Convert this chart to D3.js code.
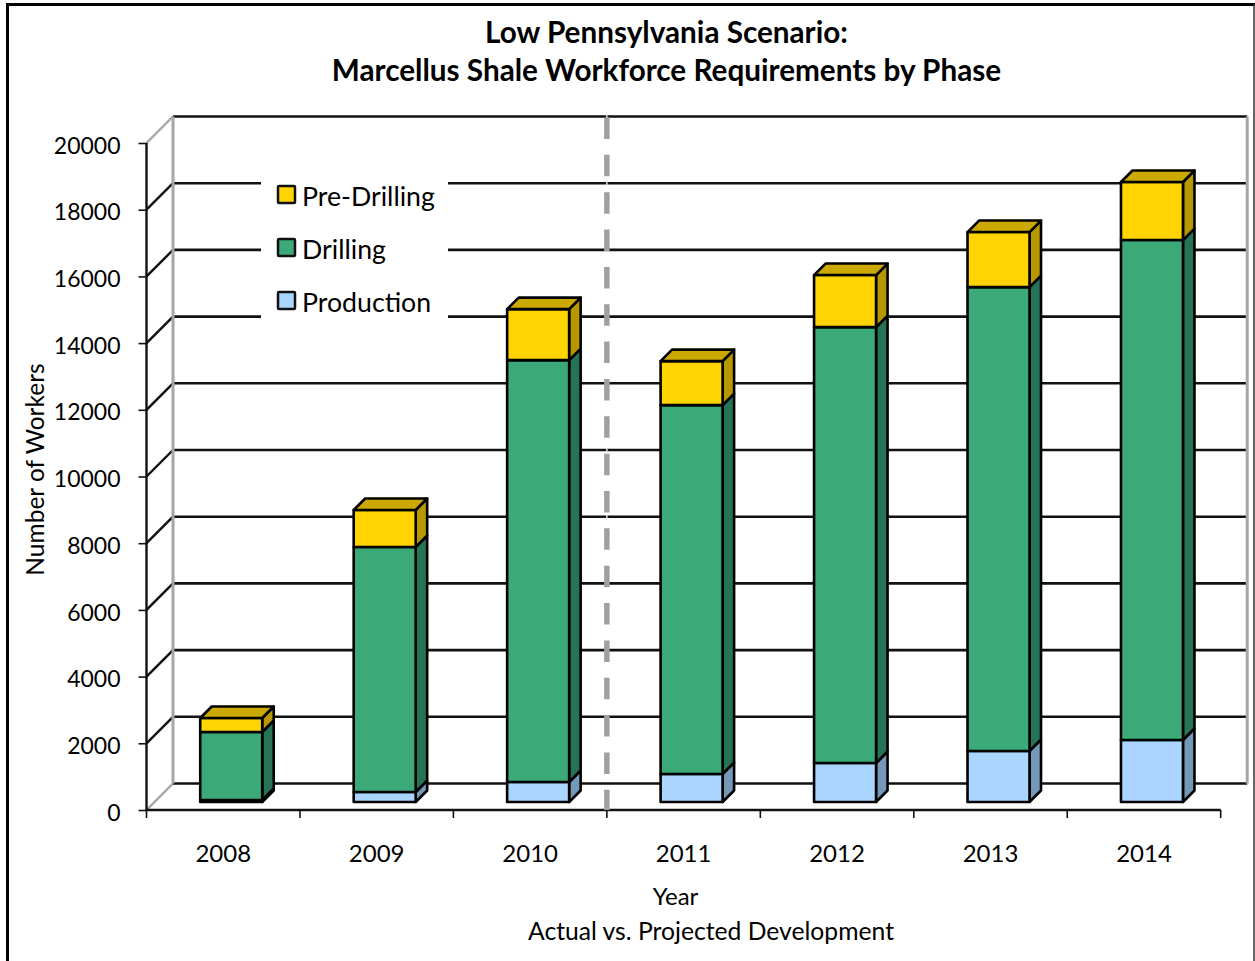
<!DOCTYPE html>
<html>
<head>
<meta charset="utf-8">
<script src="https://cdn.jsdelivr.net/npm/d3@7"></script>
<style>
html,body{margin:0;padding:0;background:#fff}
svg{display:block}
text{font-family:Lato,"Open Sans",sans-serif;fill:#000}
</style>
</head>
<body>
<svg id="chart" width="1255" height="961"></svg>
<script>
const years = ["2008","2009","2010","2011","2012","2013","2014"];
const production = [60,300,600,840,1170,1530,1860];
const drilling = [2040,7346,12650,11060,13070,13910,14990];
const preDrilling = [420,1110,1530,1320,1560,1650,1740];
const phaseNames = ["Production","Drilling","Pre-Drilling"];
const yTicks = d3.range(0,20001,2000);

const frontFill = {"Production":"#aad5ff","Drilling":"#3caa78","Pre-Drilling":"#ffd400"};
const sideFill = {"Production":"#7398b8","Drilling":"#267355","Pre-Drilling":"#b89800"};
const topFill = "#cca900";

const svg = d3.select("#chart");
const W = 1255, H = 961;

// outer frame of the chart area: heavy left and top edges, thin right edge
svg.append("path").attr("d",`M7.5,${H}V4.5H${W}`).attr("fill","none").attr("stroke","#000").attr("stroke-width",3);
svg.append("line").attr("x1",1254).attr("x2",1254).attr("y1",4).attr("y2",H).attr("stroke","#333").attr("stroke-width",1.5);

const left = 146.5, right = 1220.7, floor = 810, ceil = 143;
const wallDepth = 26.5;
const x = d3.scaleBand().domain(years).range([left,right]).paddingInner(0).paddingOuter(0);
const y = d3.scaleLinear().domain([0,20000]).range([floor,ceil]);

// back wall gridlines and the slanted lines joining them to the value axis
const grid = svg.append("g");
yTicks.forEach(t=>{
  const yy = y(t);
  const edge = (t===0||t===20000) ? "#a6a6a6" : "#111";
  grid.append("line").attr("x1",left).attr("y1",yy).attr("x2",left+wallDepth).attr("y2",yy-wallDepth)
    .attr("stroke",edge).attr("stroke-width",2.4);
  grid.append("line").attr("x1",left+wallDepth).attr("y1",yy-wallDepth).attr("x2",right+wallDepth).attr("y2",yy-wallDepth)
    .attr("stroke","#111").attr("stroke-width",2.6);
});
grid.append("line").attr("x1",left+wallDepth).attr("x2",left+wallDepth)
  .attr("y1",y(0)-wallDepth).attr("y2",y(20000)-wallDepth).attr("stroke","#a6a6a6").attr("stroke-width",3);
grid.append("line").attr("x1",right+wallDepth).attr("x2",right+wallDepth)
  .attr("y1",y(0)-wallDepth).attr("y2",y(20000)-wallDepth).attr("stroke","#a6a6a6").attr("stroke-width",3);

// legend sits on a white panel that interrupts the gridlines
const legend = svg.append("g");
legend.append("rect").attr("x",261).attr("y",170).attr("width",187).attr("height",160).attr("fill","#fff");
[...phaseNames].reverse().forEach((name,i)=>{
  const cy = 195 + i*53;
  legend.append("rect").attr("x",278).attr("y",cy-9).attr("width",17).attr("height",17)
    .attr("rx",1).attr("fill",frontFill[name]).attr("stroke","#111").attr("stroke-width",2.5);
  legend.append("text").attr("x",302).attr("y",cy+11).attr("font-size",26.7).text(name);
});

// value axis
const yAxis = d3.axisLeft(y).tickValues(yTicks).tickSize(8).tickPadding(18).tickFormat(d3.format("d"));
const gy = svg.append("g").attr("transform",`translate(${left},0)`).call(yAxis);
gy.select(".domain").attr("stroke","#111").attr("stroke-width",2.4).attr("d",`M${0},${ceil}V${floor}`);
gy.selectAll(".tick line").attr("stroke","#111").attr("stroke-width",1.6);
gy.selectAll(".tick text").attr("font-size",23).attr("dy","0.44em").style("font-family","Lato");

// category axis
const gx = svg.append("g").attr("transform",`translate(0,${floor})`)
  .call(d3.axisBottom(x).tickValues([]).tickSizeOuter(0));
gx.select(".domain").attr("stroke","#111").attr("stroke-width",2.4).attr("d",`M${left},0H${right}`);
const xEdges = years.map(d=>x(d)).concat([right]);
gx.selectAll("line.edge").data(xEdges).join("line").attr("class","edge")
  .attr("x1",d=>d).attr("x2",d=>d).attr("y1",0).attr("y2",8).attr("stroke","#111").attr("stroke-width",1.6);
gx.selectAll("text.year").data(years).join("text").attr("class","year")
  .attr("x",d=>x(d)+x.bandwidth()/2).attr("y",52).attr("text-anchor","middle").attr("font-size",24)
  .style("font-family","Lato").attr("fill","#000").text(d=>d);

// stacked 3-D columns, set back from the axis plane
const rows = years.map((yr,i)=>({year:yr,"Production":production[i],"Drilling":drilling[i],"Pre-Drilling":preDrilling[i]}));
const stacked = d3.stack().keys(phaseNames)(rows);
const barW = 62, depth = 11.5, lift = 8;
const bx = yr => x(yr) + x.bandwidth()/2 - barW/2 + lift;
const by = v => y(v) - lift;
const bars = svg.append("g").attr("stroke","#000").attr("stroke-width",2.6).attr("stroke-linejoin","round");
stacked.forEach(series=>{
  series.forEach(d=>{
    const yr = d.data.year, x0 = bx(yr), x1 = x0+barW, y0 = by(d[0]), y1 = by(d[1]);
    bars.append("path").attr("fill",sideFill[series.key])
      .attr("d",`M${x1},${y0}L${x1+depth},${y0-depth}L${x1+depth},${y1-depth}L${x1},${y1}Z`);
    bars.append("rect").attr("x",x0).attr("y",y1).attr("width",barW).attr("height",y0-y1)
      .attr("fill",frontFill[series.key]);
    if(series.key==="Pre-Drilling"){
      bars.append("path").attr("fill",topFill)
        .attr("d",`M${x0},${y1}L${x0+depth},${y1-depth}L${x1+depth},${y1-depth}L${x1},${y1}Z`);
    }
  });
});

// divider between actual and projected years, leaving a faint seam where it crosses each gridline
const divX = x("2011");
svg.append("g").selectAll("line").data(yTicks.slice(1)).join("line")
  .attr("x1",divX).attr("x2",divX)
  .attr("y1",d=>y(d)-wallDepth-2).attr("y2",d=>y(d)-wallDepth+2)
  .attr("stroke","#ddd").attr("stroke-width",1.5);
svg.append("line").attr("x1",divX).attr("x2",divX)
  .attr("y1",ceil-wallDepth+1).attr("y2",floor)
  .attr("stroke","#a0a0a0").attr("stroke-width",5.5).attr("stroke-dasharray","21.5 15.85");

// titles
svg.append("text").attr("x",666.5).attr("y",43).attr("text-anchor","middle")
  .attr("font-size",29.7).attr("font-weight",700).text("Low Pennsylvania Scenario:");
svg.append("text").attr("x",666.5).attr("y",81).attr("text-anchor","middle")
  .attr("font-size",29.7).attr("font-weight",700).text("Marcellus Shale Workforce Requirements by Phase");
svg.append("text").attr("transform","translate(44,469.5) rotate(-90)").attr("text-anchor","middle")
  .attr("font-size",24.5).text("Number of Workers");
svg.append("text").attr("x",675.5).attr("y",905).attr("text-anchor","middle").attr("font-size",24).text("Year");
svg.append("text").attr("x",711).attr("y",940).attr("text-anchor","middle").attr("font-size",24.7).text("Actual vs. Projected Development");
</script>
</body>
</html>
